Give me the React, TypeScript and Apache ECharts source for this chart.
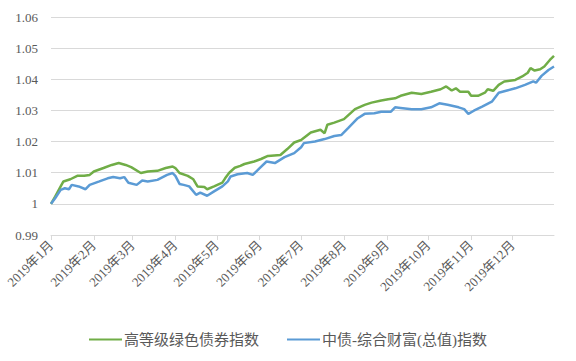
import React, { useEffect, useRef } from "react";
import * as echarts from "echarts";

const seriesNames = ["高等级绿色债券指数", "中债-综合财富(总值)指数"];

const greenDates = [
  "2019-01-01", "2019-01-04", "2019-01-08", "2019-01-10", "2019-01-15", "2019-01-20", "2019-01-25", "2019-01-29",
  "2019-02-01", "2019-02-08", "2019-02-14", "2019-02-19", "2019-02-24", "2019-02-28",
  "2019-03-07", "2019-03-12", "2019-03-19", "2019-03-25", "2019-03-30",
  "2019-04-01", "2019-04-04", "2019-04-10", "2019-04-14", "2019-04-17", "2019-04-22", "2019-04-24", "2019-04-29",
  "2019-05-05", "2019-05-07", "2019-05-10", "2019-05-14", "2019-05-18", "2019-05-21", "2019-05-28",
  "2019-06-02", "2019-06-07", "2019-06-16", "2019-06-21", "2019-06-26",
  "2019-07-01", "2019-07-08", "2019-07-15", "2019-07-18", "2019-07-20", "2019-07-25",
  "2019-08-01", "2019-08-09", "2019-08-16", "2019-08-21", "2019-08-28",
  "2019-09-02", "2019-09-07", "2019-09-11", "2019-09-19", "2019-09-26",
  "2019-10-03", "2019-10-10", "2019-10-14", "2019-10-18", "2019-10-21", "2019-10-24", "2019-10-30",
  "2019-11-01", "2019-11-06", "2019-11-11", "2019-11-13", "2019-11-17", "2019-11-21", "2019-11-25",
  "2019-12-03", "2019-12-08", "2019-12-12", "2019-12-14", "2019-12-17", "2019-12-21", "2019-12-24", "2019-12-28", "2019-12-31",
];
const greenValues = [
  1.0, 1.0023, 1.0056, 1.0072, 1.0079, 1.009, 1.009, 1.0093,
  1.0104, 1.0115, 1.0125, 1.0131, 1.0125, 1.0118,
  1.0099, 1.0104, 1.0106, 1.0115, 1.012,
  1.0115, 1.0099, 1.009, 1.0079, 1.0056, 1.0054, 1.0047, 1.0056,
  1.0068, 1.0082, 1.01, 1.0116, 1.0122, 1.0128, 1.0136,
  1.0144, 1.0154, 1.0157, 1.0176, 1.0197,
  1.0205, 1.0229, 1.0238, 1.0227, 1.0254, 1.0261,
  1.0272, 1.0304, 1.0318, 1.0325, 1.0332,
  1.0336, 1.0339, 1.0347, 1.0357, 1.0353,
  1.036, 1.0368, 1.0377, 1.0364, 1.0371, 1.036, 1.036,
  1.0347, 1.0347, 1.0357, 1.0368, 1.0363, 1.0382, 1.0393,
  1.0398, 1.0409, 1.0421, 1.0436, 1.0428, 1.0432, 1.0441, 1.0462, 1.0475,
];

const blueDates = [
  "2019-01-01", "2019-01-04", "2019-01-08", "2019-01-11", "2019-01-14", "2019-01-16", "2019-01-21", "2019-01-26", "2019-01-29",
  "2019-02-05", "2019-02-11", "2019-02-15", "2019-02-20", "2019-02-23", "2019-02-26",
  "2019-03-04", "2019-03-08", "2019-03-12", "2019-03-19", "2019-03-26", "2019-03-30",
  "2019-04-01", "2019-04-04", "2019-04-07", "2019-04-11", "2019-04-16", "2019-04-19", "2019-04-24", "2019-04-29",
  "2019-05-05", "2019-05-09", "2019-05-11", "2019-05-16", "2019-05-23", "2019-05-27",
  "2019-06-01", "2019-06-06", "2019-06-12", "2019-06-19", "2019-06-26",
  "2019-07-01", "2019-07-03", "2019-07-11", "2019-07-18", "2019-07-25", "2019-07-30",
  "2019-08-04", "2019-08-11", "2019-08-16", "2019-08-23", "2019-08-28",
  "2019-09-04", "2019-09-07", "2019-09-11", "2019-09-19", "2019-09-26",
  "2019-10-03", "2019-10-09", "2019-10-15", "2019-10-23", "2019-10-27", "2019-10-30",
  "2019-11-03", "2019-11-09", "2019-11-16", "2019-11-21", "2019-11-27",
  "2019-12-03", "2019-12-10", "2019-12-16", "2019-12-18", "2019-12-22", "2019-12-27", "2019-12-31",
];
const blueValues = [
  1.0, 1.0018, 1.0045, 1.005, 1.0047, 1.0061, 1.0056, 1.0047, 1.0061,
  1.0072, 1.0082, 1.0086, 1.0082, 1.0086, 1.0068,
  1.0061, 1.0075, 1.0072, 1.0077, 1.0093, 1.0099,
  1.009, 1.0064, 1.0061, 1.0056, 1.0029, 1.0036, 1.0026, 1.004,
  1.0056, 1.0072, 1.0088, 1.0095, 1.0099, 1.0093,
  1.0115, 1.0136, 1.0131, 1.015, 1.0163,
  1.0182, 1.0195, 1.02, 1.0208, 1.0218, 1.0221,
  1.0243, 1.0275, 1.0289, 1.0291, 1.0296,
  1.0296, 1.031, 1.0308, 1.0304, 1.0304,
  1.031, 1.0323, 1.0318, 1.031, 1.0304, 1.0289,
  1.0299, 1.0312, 1.0328, 1.0357, 1.0364,
  1.0371, 1.0382, 1.0393, 1.0389, 1.0411, 1.043, 1.0441,
];

const yMin = 0.99;
const yMax = 1.06;
const yStep = 0.01;

function buildDays(): string[] {
  const out: string[] = [];
  const d = new Date(Date.UTC(2019, 0, 1));
  while (d.getUTCFullYear() === 2019) {
    const m = String(d.getUTCMonth() + 1).padStart(2, "0");
    const day = String(d.getUTCDate()).padStart(2, "0");
    out.push(`2019-${m}-${day}`);
    d.setUTCDate(d.getUTCDate() + 1);
  }
  return out;
}

const isMonthStart = (_i: number, v: string) => v.slice(8) === "01";

export default function App() {
  const ref = useRef<HTMLDivElement>(null);
  useEffect(() => {
    if (!ref.current) return;
    const chart = echarts.init(ref.current, null, { renderer: "svg" });
    const days = buildDays();
    const serif = "'Liberation Serif', 'Times New Roman', 'Noto Sans CJK SC', serif";
    chart.setOption({
      animation: false,
      grid: { left: 51, right: 22, top: 17, bottom: 126, containLabel: false },
      legend: {
        left: "center",
        top: 327,
        itemWidth: 33,
        itemHeight: 14,
        itemGap: 28,
        icon: "path://M0,6 L33,6 L33,8 L0,8 Z",
        textStyle: { color: "#595959", fontSize: 15, fontFamily: serif, padding: [0, 0, 0, -3] },
        data: seriesNames,
      },
      xAxis: {
        type: "category",
        boundaryGap: false,
        data: days,
        axisLine: { lineStyle: { color: "#D9D9D9", width: 1 } },
        axisTick: { interval: isMonthStart, length: 5, lineStyle: { color: "#D9D9D9" } },
        axisLabel: {
          interval: isMonthStart,
          rotate: 45,
          margin: 8,
          color: "#595959",
          fontSize: 13,
          fontFamily: serif,
          formatter: (v: string) => `2019年${parseInt(v.slice(5, 7), 10)}月`,
        },
        splitLine: { show: false },
      },
      yAxis: {
        type: "value",
        min: yMin,
        max: yMax,
        interval: yStep,
        axisLine: { show: false },
        axisTick: { show: false },
        axisLabel: {
          color: "#595959",
          fontSize: 13,
          fontFamily: serif,
          margin: 13,
          formatter: (v: number) => String(+v.toFixed(2)),
        },
        splitLine: { lineStyle: { color: "#D9D9D9", width: 1 } },
      },
      series: [
        {
          name: seriesNames[0],
          type: "line",
          symbol: "none",
          data: greenDates.map((d, i) => [d, greenValues[i]]),
          lineStyle: { color: "#70AD47", width: 2.5 },
          itemStyle: { color: "#70AD47" },
        },
        {
          name: seriesNames[1],
          type: "line",
          symbol: "none",
          data: blueDates.map((d, i) => [d, blueValues[i]]),
          lineStyle: { color: "#5B9BD5", width: 2.5 },
          itemStyle: { color: "#5B9BD5" },
        },
      ],
    });
    return () => chart.dispose();
  }, []);
  return <div ref={ref} style={{ width: 576, height: 361, position: "absolute", left: 0, top: 0 }} />;
}
